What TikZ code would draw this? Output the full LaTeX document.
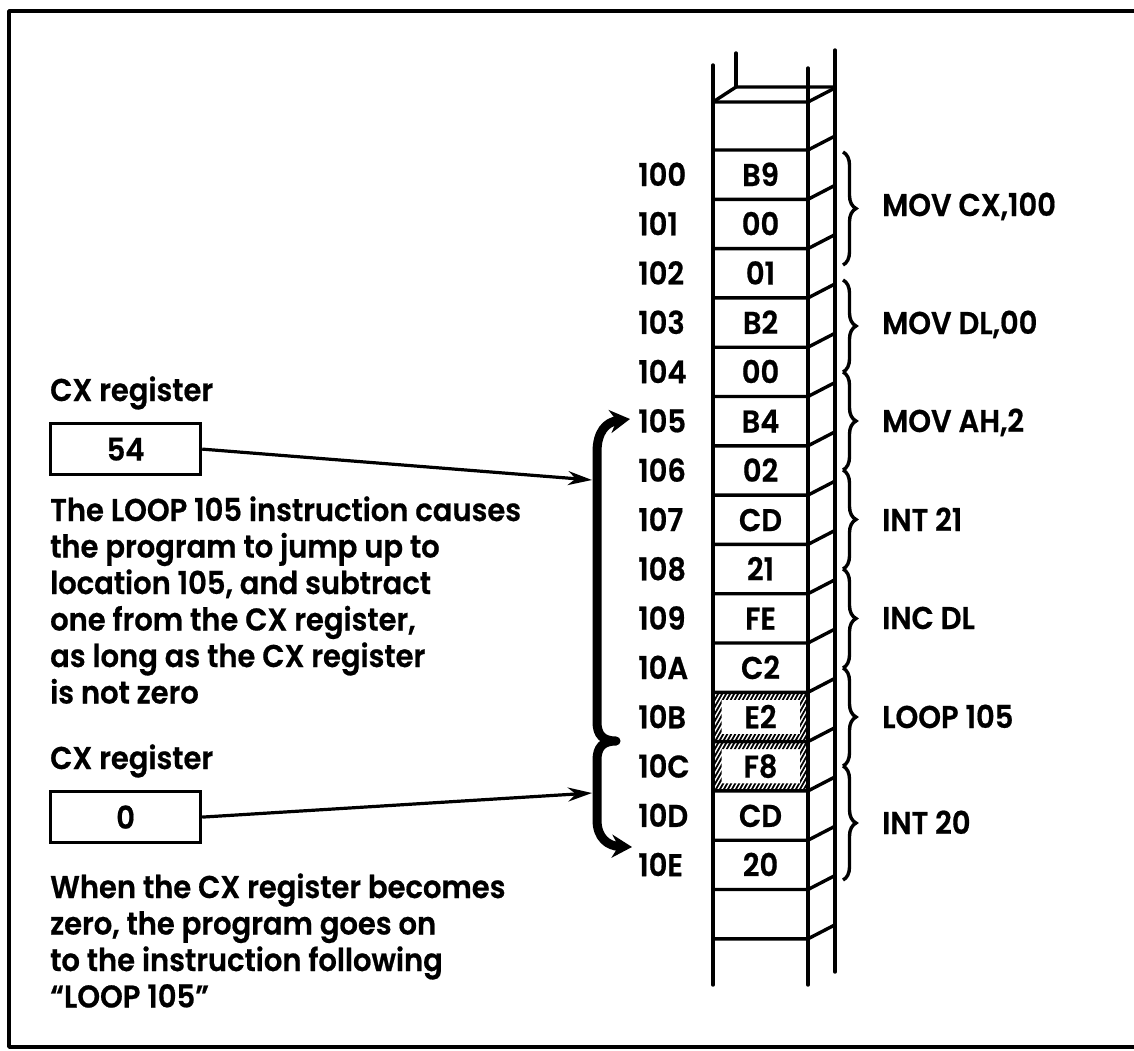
\documentclass[tikz,border=0pt]{standalone}
\usepackage{fontspec}
\newfontfamily\popfont{Poppins SemiBold}[FakeStretch=0.92, FakeBold=0.6]
\usetikzlibrary{arrows.meta,decorations.pathreplacing}
\begin{document}
\begin{tikzpicture}[x=1pt,y=-1pt,
  txt/.style={font=\popfont\fontsize{31.5}{36}\selectfont, inner sep=0pt},
  lab/.style={txt, anchor=base west},
  cell/.style={txt, anchor=base},
  regbox/.style={draw, line width=3.2pt, minimum width=150pt, minimum height=51pt, inner sep=0pt, font=\popfont\fontsize{31.5}{36}\selectfont},
  colline/.style={line width=3.4pt, line cap=round, line join=round},
  conn/.style={line width=3.2pt, -{Stealth[length=24pt,width=14pt]}},
  rbrace/.style={decorate, decoration={brace, amplitude=13pt}, line width=3.4pt},
  bigbrace/.style={line width=9pt, line join=round, {Stealth[length=20pt,width=23pt]}-{Stealth[length=20pt,width=23pt]}}
]
\useasboundingbox (0,0) rectangle (1134,1050);
% frame
\draw[line width=3.4pt, line join=round] (1140,11) -- (9,11) -- (9,1047) -- (1140,1047);

% ---------- memory column ----------
\def\xl{713}\def\xr{808}\def\xb{835}\def\dy{14}
% verticals
\draw[colline] (\xl,65) -- (\xl,985);
\draw[colline] (\xr,68) -- (\xr,985);
\draw[colline] (\xb,50) -- (\xb,972);
\draw[colline] (736,53) -- (736,87);
% top face
\draw[colline] (\xl,102) -- (736,87) -- (\xb,87);
\draw[colline] (\xl,102) -- (\xr,102) -- (\xb,88);
% row lines
\foreach \k in {0,...,16}{
  \pgfmathsetmacro{\h}{150+49.3*\k}
  \draw[colline] (\xl,\h) -- (\xr,\h) -- (\xb,{\h-\dy});
}
% hatched cells (E2, F8)
\foreach \k in {11,12}{
  \pgfmathsetmacro{\ha}{150+49.3*\k}
  \pgfmathsetmacro{\hb}{150+49.3*(\k+1)}
  \begin{scope}[even odd rule]
    \clip (715,{\ha+1.5}) rectangle (806.5,{\hb-1.5})
          (721.5,{\ha+7.5}) rectangle (800,{\hb-7.5});
    \foreach \t in {-50,-46,...,120}{
      \draw[line width=1.8pt] ({\xl+\t},\hb) -- ({\xl+\t+28},\ha);
    }
  \end{scope}
}
% cell contents and addresses
\foreach [count=\i from 0] \c/\a in {B9/100,00/101,01/102,B2/103,00/104,B4/105,02/106,CD/107,21/108,FE/109,C2/10A,E2/10B,F8/10C,CD/10D,20/10E}{
  \pgfmathsetmacro{\yc}{175+49.3*\i+11}
  \node[cell] (c\i) at (760.5,\yc) {\c};
  \node[lab] (a\i) at (638,\yc) {\a};
}

% ---------- right braces and mnemonics ----------
\draw[rbrace] (843,152) -- (843,265);
\draw[rbrace] (843,280) -- (843,372);
\draw[rbrace] (843,372) -- (843,470);
\draw[rbrace] (843,470) -- (843,569);
\draw[rbrace] (843,569) -- (843,668);
\draw[rbrace] (843,668) -- (843,766);
\draw[rbrace] (843,766) -- (843,880);
\node[lab] (m1) at (882,216) {MOV CX,100};
\node[lab] (m2) at (882,334) {MOV DL,00};
\node[lab] (m3) at (882,432) {MOV AH,2};
\node[lab] (m4) at (882,531) {INT 21};
\node[lab] (m5) at (882,629) {INC DL};
\node[lab] (m6) at (882,728) {LOOP 105};
\node[lab] (m7) at (882,834) {INT 20};

% ---------- left side ----------
\node[lab] (l1) at (50,401) {CX register};
\node[regbox, anchor=north west] (r1) at (49,422) {54};
\foreach [count=\j from 0] \s in {The LOOP 105 instruction causes, the program to jump up to, {location 105, and subtract}, {one from the CX register,}, as long as the CX register, is not zero}{
  \node[lab] (p\j) at (50,{521+36.5*\j}) {\s};
}
\node[lab] (l2) at (50,769) {CX register};
\node[regbox, anchor=north west] (r2) at (49,790) {0};
\foreach [count=\j from 0] \s in {When the CX register becomes, {zero, the program goes on}, to the instruction following, “LOOP 105”}{
  \node[lab] (q\j) at (50,{898+36.5*\j}) {\s};
}

% big loop brace
\coordinate (bbTop) at (630,419);
\coordinate (bbCusp) at (616,741);
\coordinate (bbBot) at (632,847);
\draw[bigbrace] (bbTop) .. controls (606,422) and (597,432) .. (597,452) -- (597,722)
   .. controls (597,735) and (603,741) .. (bbCusp)
   .. controls (603,741) and (597,747) .. (597,760) -- (597,820)
   .. controls (597,838) and (608,846) .. (bbBot);
\coordinate (t1) at (592,480);
\coordinate (t2) at (592,793);
\draw[conn] (r1.east) -- (t1);
\draw[conn] (r2.east) -- (t2);
\end{tikzpicture}
\end{document}
